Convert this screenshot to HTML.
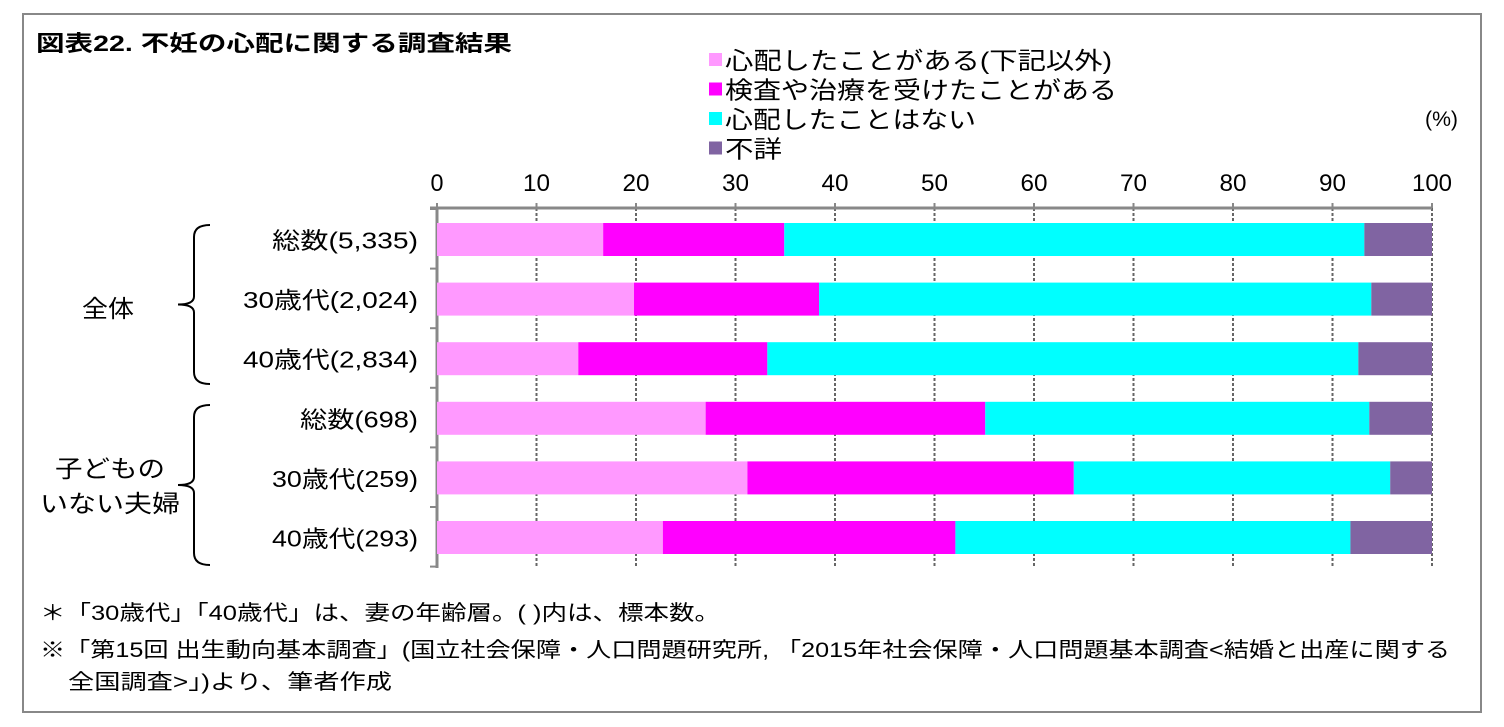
<!DOCTYPE html>
<html><head><meta charset="utf-8"><style>
body{margin:0;background:#fff;font-family:"Liberation Sans","Noto Sans CJK JP",sans-serif;}
#frame{position:absolute;left:22px;top:13px;width:1460px;height:700px;border:2px solid #888;box-sizing:border-box;}
</style></head><body>
<div id="frame"></div>
<svg id="chart" width="1504" height="727" style="position:absolute;left:0;top:0" font-family="Liberation Sans, Noto Sans CJK JP, sans-serif">
<text x="36" y="51" font-size="22" font-weight="bold" textLength="476" lengthAdjust="spacingAndGlyphs">図表22.  不妊の心配に関する調査結果</text>
<text x="1425" y="126" font-size="21" textLength="33" lengthAdjust="spacingAndGlyphs">(%)</text>
<text x="40" y="620" font-size="21" textLength="680" lengthAdjust="spacingAndGlyphs">＊「30歳代」「40歳代」は、妻の年齢層。( )内は、標本数。</text>
<text x="40" y="657" font-size="21" textLength="1410" lengthAdjust="spacingAndGlyphs">※「第15回 出生動向基本調査」(国立社会保障・人口問題研究所, 「2015年社会保障・人口問題基本調査&lt;結婚と出産に関する</text>
<text x="68" y="689" font-size="21" textLength="324" lengthAdjust="spacingAndGlyphs">全国調査&gt;」)より、筆者作成</text>
</svg>
<script>
const categories=["総数(5,335)","30歳代(2,024)","40歳代(2,834)","総数(698)","30歳代(259)","40歳代(293)"];
const worried=[16.7,19.8,14.2,27.0,31.2,22.7];
const treated=[18.2,18.6,19.0,28.1,32.8,29.4];
const notWorried=[58.3,55.5,59.4,38.6,31.8,39.7];
const unknown=[6.8,6.1,7.4,6.3,4.2,8.2];
const seriesNames=["心配したことがある(下記以外)","検査や治療を受けたことがある","心配したことはない","不詳"];
const seriesColors=["#FF99FF","#FF00FF","#00FFFF","#8064A2"];
const ticks=[0,10,20,30,40,50,60,70,80,90,100];
const catWidths=[146,175,175,118,146,146];
const legendWidths=[387,392,251,57];
const svg=document.getElementById('chart');
const NS="http://www.w3.org/2000/svg";
const x=v=>437+v*9.95;
const rowY=i=>239.5+i*59.6;
function mk(t,a){const e=document.createElementNS(NS,t);for(const k in a)e.setAttribute(k,a[k]);svg.appendChild(e);return e;}
ticks.forEach(t=>{if(t>0){const g=mk('line',{x1:x(t),x2:x(t),y1:208,y2:566,stroke:'#666','stroke-width':2,'stroke-dasharray':'3,2'});

}
const k=mk('line',{x1:x(t),x2:x(t),y1:203,y2:208,stroke:'#888','stroke-width':2});


const w=t<10?13:(t<100?27:40);
const l=mk('text',{x:x(t)-w/2,y:191,'font-size':24,textLength:w,lengthAdjust:'spacingAndGlyphs'});l.textContent=t;

});
const ax=mk('line',{x1:430,x2:x(100),y1:208,y2:208,stroke:'#888','stroke-width':3});


const ay=mk('line',{x1:437,x2:437,y1:208,y2:568,stroke:'#888','stroke-width':3});


for(let i=0;i<=6;i++){const tk=mk('line',{x1:430,x2:437,y1:209+i*59.6,y2:209+i*59.6,stroke:'#888','stroke-width':2});

}
const series=[worried,treated,notWorried,unknown];
categories.forEach((c,i)=>{let acc=0;
series.forEach((s,j)=>{const r=mk('rect',{x:x(acc),y:rowY(i)-16.5,width:x(acc+s[i])-x(acc),height:33,fill:seriesColors[j]});

acc+=s[i];});
const t=mk('text',{x:418-catWidths[i],y:rowY(i)+9,'font-size':23,textLength:catWidths[i],lengthAdjust:'spacingAndGlyphs'});t.textContent=c;

});
seriesNames.forEach((n,j)=>{const r=mk('rect',{x:709,y:53+j*29.5,width:13,height:13,fill:seriesColors[j]});


const t=mk('text',{x:725,y:69+j*29.5,'font-size':24,textLength:legendWidths[j],lengthAdjust:'spacingAndGlyphs'});t.textContent=n;

});
function brace(y1,y2,name){const m=(y1+y2)/2;const p=mk('path',{d:`M210 ${y1} Q194 ${y1} 194 ${y1+12} L194 ${m-8} Q194 ${m} 178 ${m} Q194 ${m} 194 ${m+8} L194 ${y2-12} Q194 ${y2} 210 ${y2}`,fill:'none',stroke:'#000','stroke-width':2});

}
brace(225,384,'brace-all');brace(405,565,'brace-childless');
function lab(txt,xx,w,yy,name){const t=mk('text',{x:xx,y:yy,'font-size':24,textLength:w,lengthAdjust:'spacingAndGlyphs'});t.textContent=txt;

}
lab('全体',82,52,317,'group-label-all');
lab('子どもの',55,110,477,'group-label-childless-1');
lab('いない夫婦',40,140,512,'group-label-childless-2');
</script>
</body></html>
